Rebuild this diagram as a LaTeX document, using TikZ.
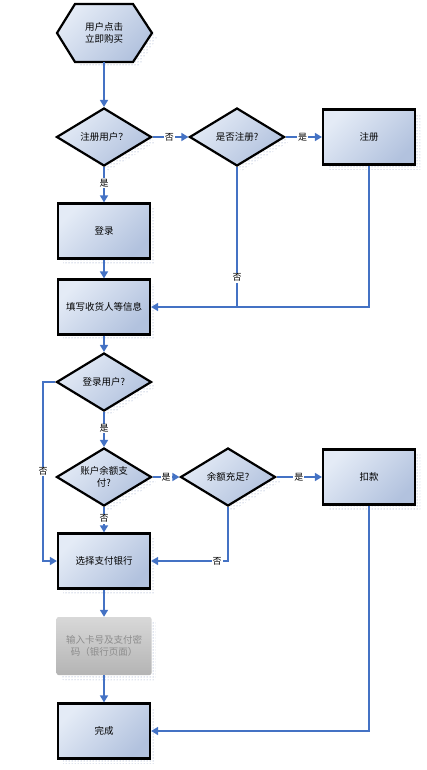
\documentclass[tikz,border=0pt]{standalone}
\usepackage{fontspec}
\setmainfont{Noto Sans CJK SC}
\usetikzlibrary{shapes.geometric,arrows.meta,patterns,shadows}
\definecolor{boxtop}{HTML}{E4EBF6}
\definecolor{boxbot}{HTML}{B2C2DE}
\definecolor{flow}{HTML}{4472C4}
\definecolor{shad}{HTML}{7F90B8}
\definecolor{graytop}{HTML}{D8D8D8}
\definecolor{graybot}{HTML}{B4B4B4}
\definecolor{graytxt}{HTML}{8C8C8C}
\tikzset{
  dotshadow/.style={general shadow={shadow xshift=5pt,shadow yshift=-5pt,pattern=dots,pattern color=shad}},
  blockfill/.style={top color=boxtop,bottom color=boxbot,shading angle=45},
  procbox/.style={rectangle,draw=black,line width=2.2pt,blockfill,dotshadow,
    minimum width=92pt,minimum height=55pt,inner sep=1pt,align=center,font=\fontsize{9.5}{12}\selectfont},
  decbox/.style={diamond,draw=black,line width=2.2pt,blockfill,dotshadow,aspect=1.64,
    minimum width=95pt,minimum height=58pt,inner sep=0pt,align=center,font=\fontsize{9.5}{12}\selectfont},
  graybox/.style={rectangle,rounded corners=2pt,top color=graytop,bottom color=graybot,dotshadow,
    minimum width=95pt,minimum height=58pt,inner sep=1pt,align=center,text=graytxt,font=\fontsize{9.5}{12}\selectfont},
  hexbox/.style={rectangle,minimum width=95pt,minimum height=58pt,inner sep=0pt,align=center,font=\fontsize{9.5}{12}\selectfont},
  flowline/.style={draw=flow,line width=1.6pt},
  flowarrow/.style={flowline,-{Triangle[length=7pt,width=8pt]}},
  lbl/.style={fill=white,inner sep=1pt,font=\fontsize{9}{10}\selectfont,text=black},
}
\begin{document}
\begin{tikzpicture}[x=1pt,y=-1pt]
\useasboundingbox (0,0) rectangle (427,770);
% hexagon start
\path[pattern=dots,pattern color=shad,shift={(5,5)}]
  (57,33) -- (75,4) -- (133,4) -- (152,33) -- (133,62) -- (75,62) -- cycle;
\path[draw=black,line width=2.2pt,blockfill]
  (57,33) -- (75,4) -- (133,4) -- (152,33) -- (133,62) -- (75,62) -- cycle;
\node[hexbox] (start) at (104,33) {用户点击\\立即购买};

\node[decbox] (d1) at (104,137) {注册用户？};
\node[decbox] (d2) at (237,137) {是否注册?};
\node[procbox] (reg) at (369,137) {注册};
\node[procbox] (login) at (104,231) {登录};
\node[procbox] (fill) at (104,307) {填写收货人等信息};
\node[decbox] (d3) at (104,382) {登录用户?};
\node[decbox] (d4) at (104,477) {账户余额支\\付?};
\node[decbox] (d5) at (228,477) {余额充足?};
\node[procbox] (pay) at (369,477) {扣款};
\node[procbox] (sel) at (104,561) {选择支付银行};
\node[graybox] (bank) at (104,646) {输入卡号及支付密\\码（银行页面）};
\node[procbox] (done) at (104,731) {完成};

\coordinate (lft) at (43,382);

\draw[flowarrow] (start.south) -- (d1.north);
\draw[flowarrow] (d1.east) -- node[lbl,pos=0.47] {否} (d2.west);
\draw[flowarrow] (d2.east) -- node[lbl,pos=0.47] {是} (reg.west);
\draw[flowarrow] (d1.south) -- node[lbl,pos=0.46] {是} (login.north);
\draw[flowarrow] (login.south) -- (fill.north);
\draw[flowarrow] (reg.south) |- (fill.east);
\draw[flowline] (d2.south) -- node[lbl,pos=0.79] {否} (d2.south |- fill.east);
\draw[flowarrow] (fill.south) -- (d3.north);
\draw[flowarrow] (d3.south) -- node[lbl,pos=0.47] {是} (d4.north);
\draw[flowarrow] (d3.west) -- (lft) |- node[lbl,pos=0.25] {否} (sel.west);
\draw[flowarrow] (d4.east) -- node[lbl,pos=0.5] {是} (d5.west);
\draw[flowarrow] (d5.east) -- node[lbl,pos=0.49] {是} (pay.west);
\draw[flowarrow] (d4.south) -- node[lbl,pos=0.46] {否} (sel.north);
\draw[flowarrow] (d5.south) |- node[lbl,pos=0.57] {否} (sel.east);
\draw[flowarrow] (sel.south) -- (bank.north);
\draw[flowarrow] (bank.south) -- (done.north);
\draw[flowarrow] (pay.south) |- (done.east);
\end{tikzpicture}
\end{document}
